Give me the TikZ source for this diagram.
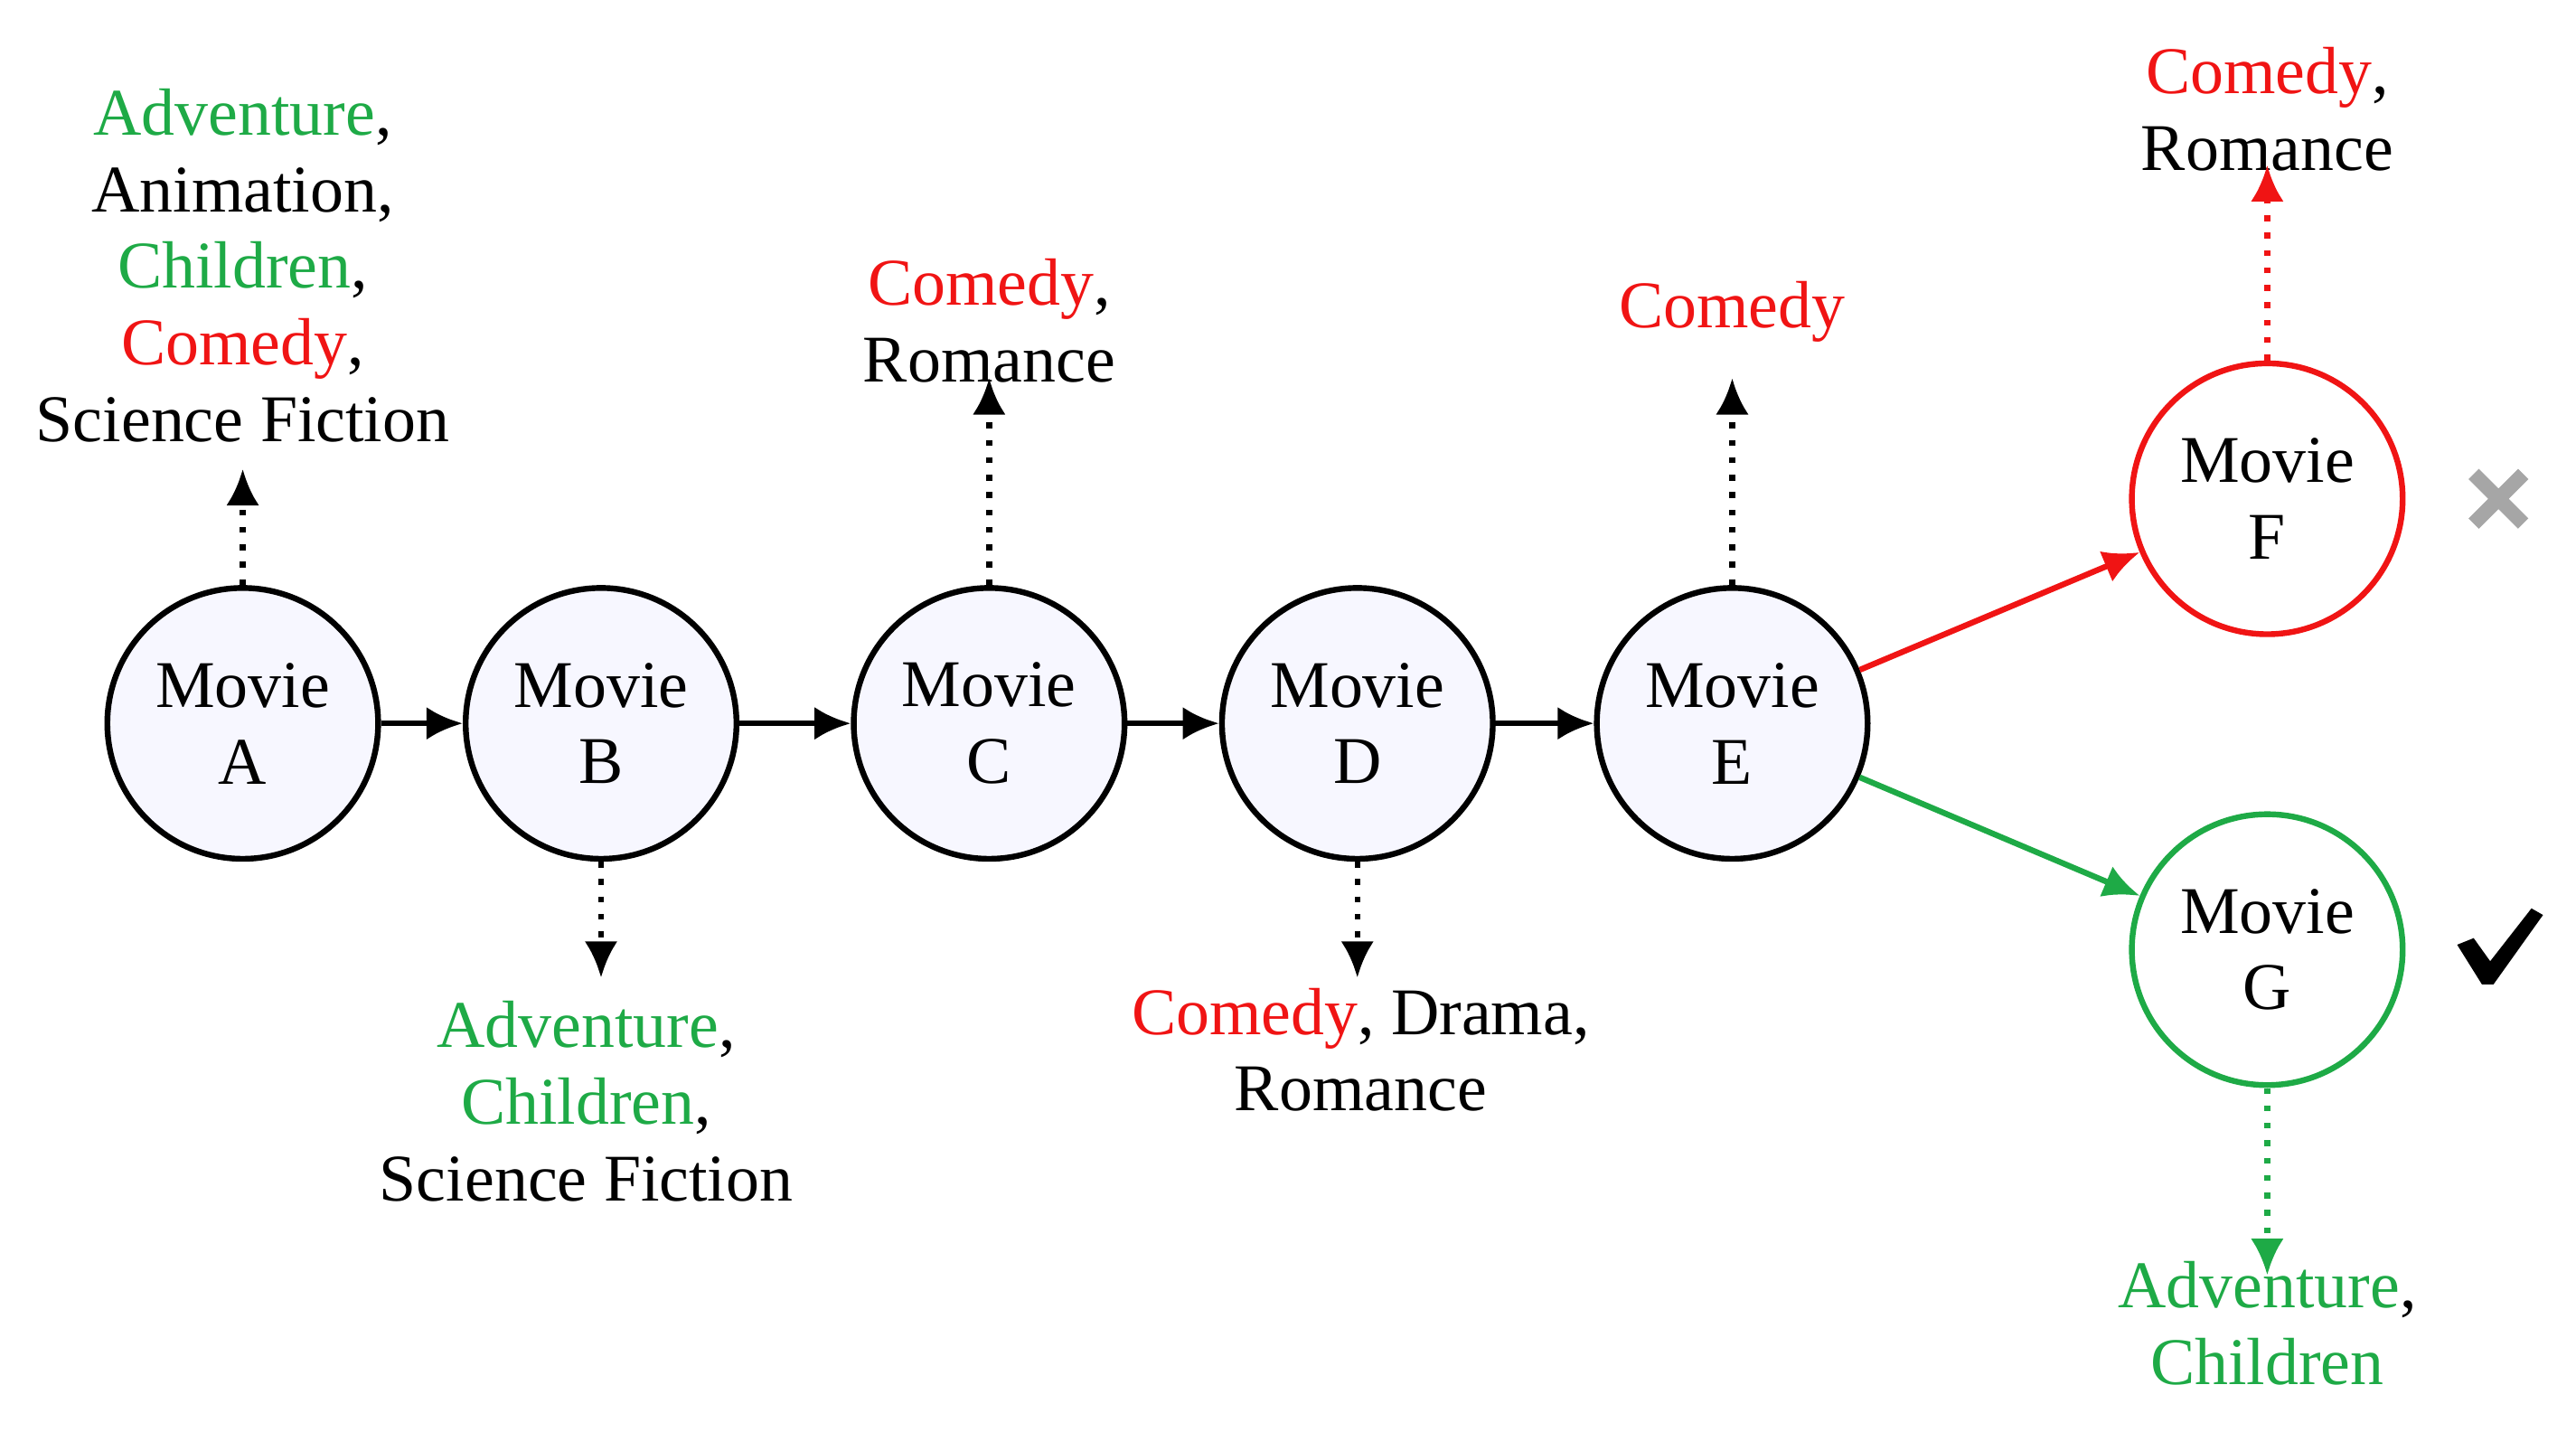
\documentclass[tikz,border=0pt]{standalone}
\usepackage{fontspec}
\setmainfont{Liberation Serif}
\usetikzlibrary{arrows.meta}
\definecolor{mgreen}{RGB}{30,170,70}
\definecolor{mred}{RGB}{240,20,20}
\tikzset{
  movie/.style={draw,line width=1pt,circle,minimum size=1.64cm,inner sep=0pt,fill=blue!3,align=center},
  genre/.style={align=center,inner sep=1pt},
  link/.style={-{Latex[length=2.2mm,width=2mm]},line width=1pt},
  tag/.style={-{Latex[length=2.2mm,width=2mm]},dotted,line width=1pt}
}
\begin{document}
\begin{tikzpicture}[x=1cm,y=-1cm,font=\fontsize{11.5}{13.2}\selectfont]
  \useasboundingbox (0,0) rectangle (15.6,8.67);
  \node (mA)[movie] at (1.47,4.38) {Movie\\A};
  \node (mB)[movie] at (3.64,4.38) {Movie\\B};
  \node (mC)[movie] at (5.99,4.38) {Movie\\C};
  \node (mD)[movie] at (8.22,4.38) {Movie\\D};
  \node (mE)[movie] at (10.49,4.38) {Movie\\E};
  \node (mF)[movie,draw=mred,fill=white] at (13.73,3.02) {Movie\\F};
  \node (mG)[movie,draw=mgreen,fill=white] at (13.73,5.75) {Movie\\G};

  \node (gA)[genre,anchor=south] at (1.47,2.72) {\textcolor{mgreen}{Adventure},\\Animation,\\\textcolor{mgreen}{Children},\\\textcolor{mred}{Comedy},\\Science Fiction};
  \node (gB)[genre,anchor=north] at (3.55,6.02) {\textcolor{mgreen}{Adventure},\\\textcolor{mgreen}{Children},\\Science Fiction};
  \node (gC)[genre,anchor=south] at (5.99,2.36) {\textcolor{mred}{Comedy},\\Romance};
  \node (gD)[genre,anchor=north] at (8.24,5.94) {\textcolor{mred}{Comedy}, Drama,\\Romance};
  \node (gE)[genre] at (10.49,1.89) {\textcolor{mred}{Comedy}};
  \node (gF)[genre] at (13.73,0.66) {\textcolor{mred}{Comedy},\\Romance};
  \node (gG)[genre] at (13.73,8.01) {\textcolor{mgreen}{Adventure},\\\textcolor{mgreen}{Children}};

  \coordinate (tA) at (1.47,2.84);
  \coordinate (tB) at (3.64,5.92);
  \coordinate (tC) at (5.99,2.29);
  \coordinate (tD) at (8.22,5.92);
  \coordinate (tE) at (10.49,2.29);
  \coordinate (tF) at (13.73,1.0);
  \coordinate (tG) at (13.73,7.72);

  % chain
  \draw[link] (mA) -- (mB);
  \draw[link] (mB) -- (mC);
  \draw[link] (mC) -- (mD);
  \draw[link] (mD) -- (mE);
  \draw[link,mred] (mE) -- (mF);
  \draw[link,mgreen] (mE) -- (mG);

  % genres
  \foreach \m in {A,B,C,D,E}{
    \draw[tag] (m\m) -- (t\m);
  }
  \draw[tag,mred] (mF) -- (tF);
  \draw[tag,mgreen] (mG) -- (tG);

  % marks
  \draw[gray!70,line width=2.5pt] (14.98,2.87) -- (15.28,3.17) (14.98,3.17) -- (15.28,2.87);
  \fill (14.88,5.72) -- (14.98,5.68) -- (15.08,5.82) -- (15.33,5.5) -- (15.40,5.54) -- (15.10,5.96) -- (15.03,5.96) -- cycle;
\end{tikzpicture}
\end{document}
